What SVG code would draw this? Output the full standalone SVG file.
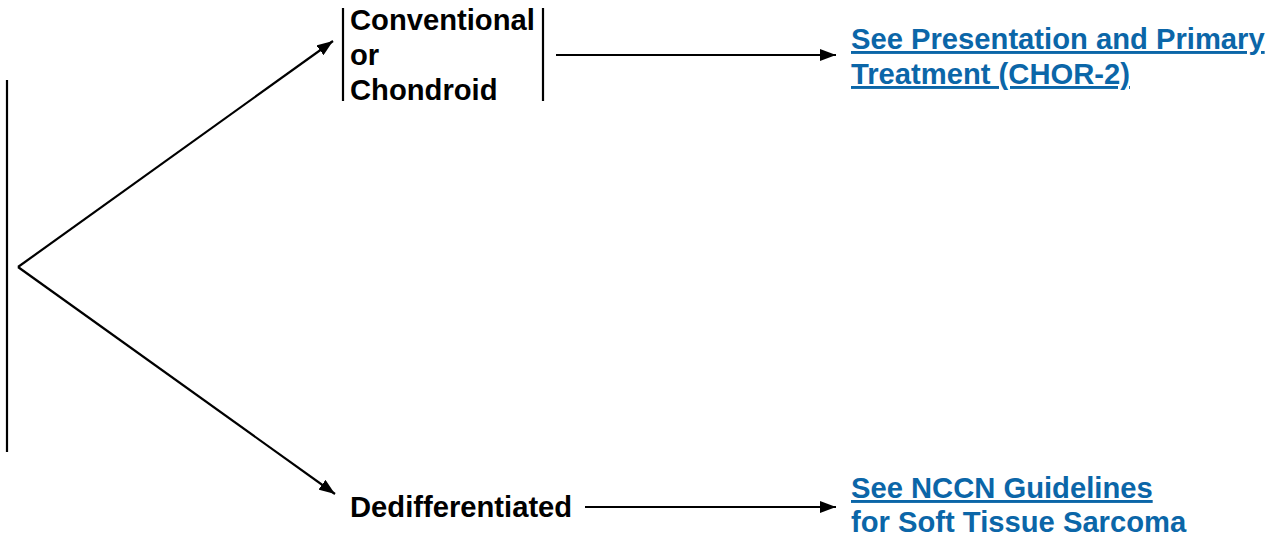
<svg xmlns="http://www.w3.org/2000/svg" width="1269" height="537" viewBox="0 0 1269 537">
<style>
.t{font-family:"Liberation Sans",Arial,sans-serif;font-weight:bold;font-size:29.2px;fill:#000}
.l{font-family:"Liberation Sans",Arial,sans-serif;font-weight:bold;font-size:29.2px;fill:#0b66a8}
.u{text-decoration:underline}
.ln{stroke:#000;stroke-width:2.2;fill:none}
</style>
<defs>
<marker id="ah" markerWidth="16" markerHeight="12" refX="16" refY="6" orient="auto" markerUnits="userSpaceOnUse">
<path d="M0,0 L16,6 L0,12 Z" fill="#000"/>
</marker>
</defs>
<g id="connectors">
<line class="ln" x1="7" y1="80" x2="7" y2="452"/>
<line class="ln" x1="18" y1="267" x2="333" y2="41" marker-end="url(#ah)"/>
<line class="ln" x1="18" y1="267" x2="335" y2="494" marker-end="url(#ah)"/>
<line class="ln" x1="556" y1="55" x2="836" y2="55" marker-end="url(#ah)"/>
<line class="ln" x1="585" y1="507" x2="836" y2="507" marker-end="url(#ah)"/>
</g>
<g id="node-conventional">
<line class="ln" x1="343" y1="8" x2="343" y2="101"/>
<line class="ln" x1="543" y1="8" x2="543" y2="101"/>
<text class="t" x="350" y="30">Conventional</text>
<text class="t" x="350" y="65">or</text>
<text class="t" x="350" y="100">Chondroid</text>
</g>
<g id="node-dedifferentiated">
<text class="t" x="350" y="517">Dedifferentiated</text>
</g>
<g id="node-chor2">
<text class="l u" x="851" y="49">See Presentation and Primary</text>
<text class="l u" x="851" y="84">Treatment (CHOR-2)</text>
</g>
<g id="node-sts">
<text class="l u" x="851" y="498">See NCCN Guidelines</text>
<text class="l" x="851" y="532">for Soft Tissue Sarcoma</text>
</g>
</svg>
